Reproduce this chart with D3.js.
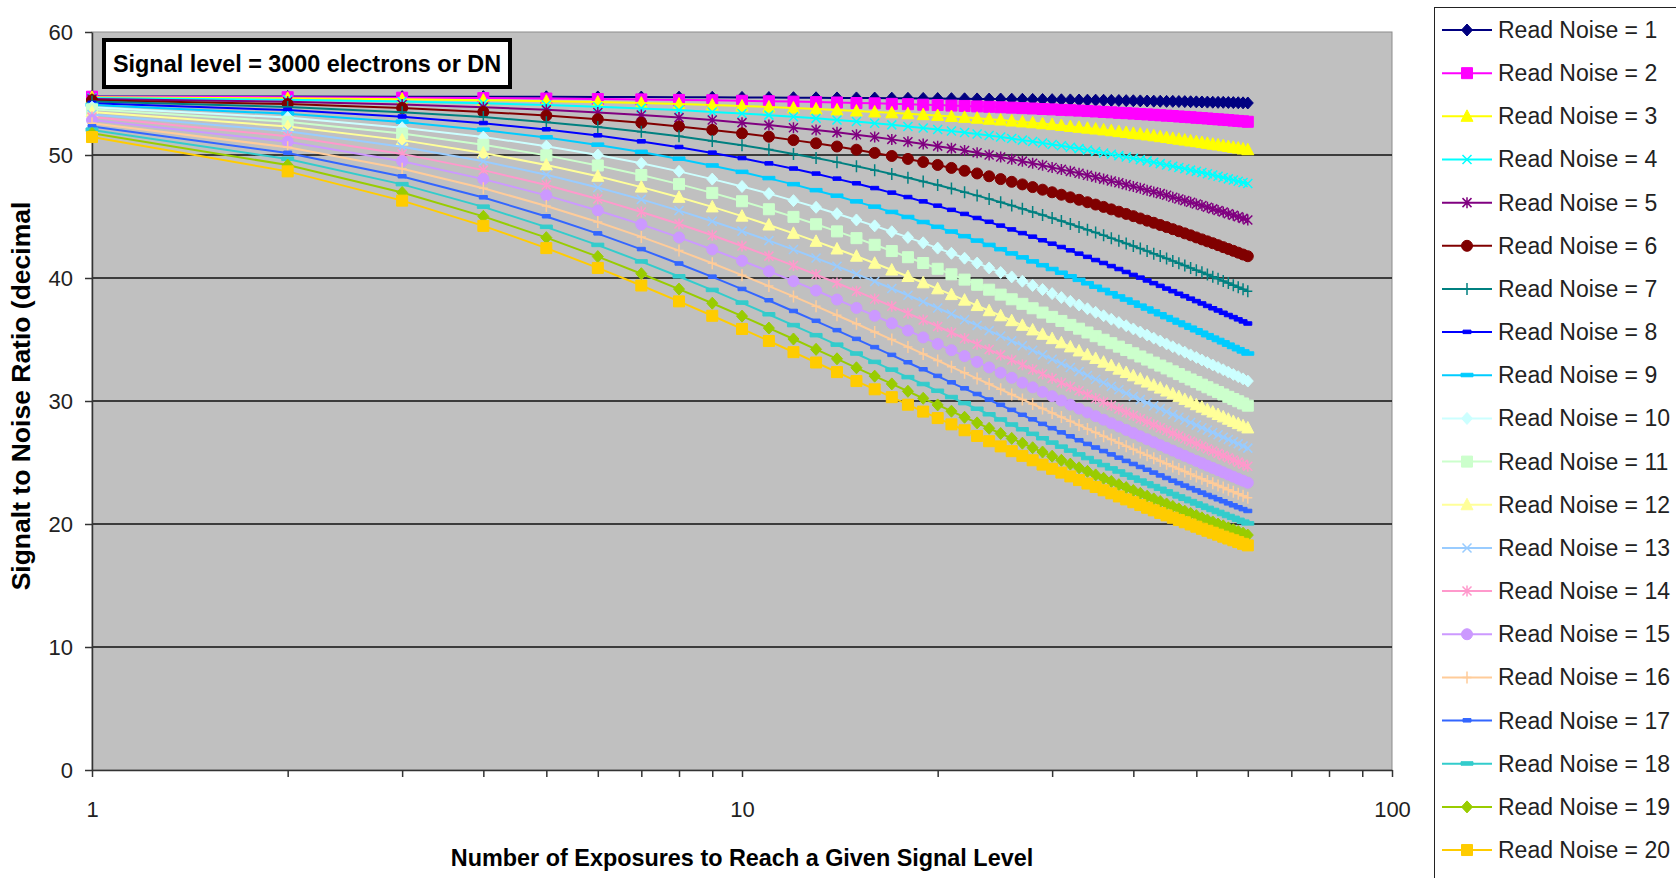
<!DOCTYPE html>
<html>
<head>
<meta charset="utf-8">
<script src="https://d3js.org/d3.v7.min.js"></script>
<style>
  body { margin: 0; background: #fff; }
  text { font-family: "Liberation Sans", Arial, sans-serif; }
</style>
</head>
<body>
<svg width="1676" height="878"></svg>
<script>
// number of exposures (x values)
var exposures = [
  1, 2, 3, 4, 5, 6, 7, 8, 9, 10,
  11, 12, 13, 14, 15, 16, 17, 18, 19, 20,
  21, 22, 23, 24, 25, 26, 27, 28, 29, 30,
  31, 32, 33, 34, 35, 36, 37, 38, 39, 40,
  41, 42, 43, 44, 45, 46, 47, 48, 49, 50,
  51, 52, 53, 54, 55, 56, 57, 58, 59, 60];

var readNoise = [1, 2, 3, 4, 5, 6, 7, 8, 9, 10, 11, 12, 13, 14, 15, 16, 17, 18, 19, 20];

// SNR, one array per read noise level
var snr1 = [54.76,54.75,54.74,54.74,54.73,54.72,54.71,54.70,54.69,54.68,
  54.67,54.66,54.65,54.64,54.64,54.63,54.62,54.61,54.60,54.59,
  54.58,54.57,54.56,54.55,54.55,54.54,54.53,54.52,54.51,54.50,
  54.49,54.48,54.47,54.46,54.46,54.45,54.44,54.43,54.42,54.41,
  54.40,54.39,54.38,54.37,54.36,54.36,54.35,54.34,54.33,54.32,
  54.31,54.30,54.29,54.28,54.28,54.27,54.26,54.25,54.24,54.23];
var snr2 = [54.74,54.70,54.66,54.63,54.59,54.55,54.52,54.48,54.45,54.41,
  54.37,54.34,54.30,54.27,54.23,54.20,54.16,54.13,54.09,54.06,
  54.02,53.99,53.95,53.92,53.88,53.85,53.81,53.78,53.74,53.71,
  53.67,53.64,53.61,53.57,53.54,53.50,53.47,53.43,53.40,53.37,
  53.33,53.30,53.27,53.23,53.20,53.17,53.13,53.10,53.07,53.03,
  53.00,52.97,52.93,52.90,52.87,52.84,52.80,52.77,52.74,52.70];
var snr3 = [54.69,54.61,54.53,54.46,54.38,54.30,54.22,54.14,54.06,53.98,
  53.90,53.82,53.74,53.66,53.58,53.50,53.43,53.35,53.28,53.21,
  53.13,53.06,52.99,52.91,52.84,52.76,52.69,52.62,52.54,52.47,
  52.40,52.32,52.25,52.18,52.11,52.04,51.97,51.90,51.83,51.76,
  51.70,51.63,51.56,51.49,51.42,51.35,51.28,51.21,51.14,51.08,
  51.01,50.95,50.88,50.82,50.75,50.69,50.62,50.56,50.49,50.43];
var snr4 = [54.63,54.49,54.35,54.21,54.07,53.93,53.79,53.65,53.50,53.37,
  53.24,53.11,52.98,52.85,52.72,52.58,52.45,52.32,52.19,52.07,
  51.95,51.83,51.70,51.58,51.46,51.34,51.21,51.09,50.97,50.86,
  50.75,50.63,50.52,50.40,50.29,50.17,50.06,49.95,49.84,49.73,
  49.62,49.52,49.41,49.30,49.19,49.08,48.98,48.88,48.77,48.67,
  48.57,48.47,48.37,48.27,48.17,48.06,47.97,47.87,47.77,47.68];
var snr5 = [54.55,54.33,54.11,53.89,53.67,53.45,53.25,53.04,52.84,52.63,
  52.43,52.22,52.03,51.84,51.65,51.46,51.27,51.08,50.90,50.72,
  50.54,50.36,50.18,50.00,49.83,49.66,49.50,49.33,49.16,48.99,
  48.83,48.67,48.51,48.36,48.20,48.04,47.89,47.74,47.59,47.44,
  47.29,47.14,47.00,46.86,46.72,46.57,46.43,46.29,46.16,46.02,
  45.89,45.75,45.62,45.49,45.36,45.23,45.10,44.98,44.85,44.72];
var snr6 = [54.46,54.14,53.82,53.50,53.21,52.91,52.62,52.32,52.04,51.76,
  51.49,51.21,50.95,50.69,50.43,50.17,49.92,49.68,49.43,49.19,
  48.95,48.72,48.50,48.27,48.04,47.82,47.61,47.39,47.18,46.97,
  46.77,46.56,46.36,46.16,45.97,45.78,45.58,45.39,45.21,45.03,
  44.84,44.66,44.49,44.31,44.14,43.97,43.80,43.63,43.47,43.30,
  43.14,42.98,42.83,42.67,42.51,42.36,42.21,42.06,41.91,41.77];
var snr7 = [54.34,53.91,53.48,53.08,52.67,52.27,51.89,51.52,51.14,50.79,
  50.44,50.09,49.75,49.42,49.09,48.77,48.46,48.15,47.85,47.56,
  47.27,46.98,46.70,46.43,46.16,45.89,45.63,45.37,45.12,44.87,
  44.63,44.39,44.15,43.92,43.69,43.47,43.24,43.03,42.81,42.60,
  42.39,42.19,41.98,41.78,41.59,41.39,41.20,41.01,40.82,40.64,
  40.46,40.28,40.10,39.93,39.75,39.59,39.42,39.25,39.09,38.93];
var snr8 = [54.21,53.65,53.11,52.58,52.07,51.58,51.09,50.63,50.17,49.73,
  49.30,48.88,48.47,48.06,47.68,47.29,46.92,46.56,46.21,45.86,
  45.52,45.19,44.86,44.55,44.24,43.93,43.63,43.34,43.05,42.77,
  42.50,42.23,41.96,41.70,41.44,41.20,40.95,40.71,40.47,40.23,
  40.01,39.78,39.56,39.34,39.12,38.91,38.70,38.50,38.30,38.10,
  37.91,37.71,37.52,37.34,37.15,36.97,36.80,36.62,36.45,36.28];
var snr9 = [54.06,53.35,52.69,52.04,51.42,50.82,50.24,49.68,49.13,48.61,
  48.10,47.61,47.12,46.67,46.21,45.78,45.35,44.94,44.53,44.14,
  43.76,43.38,43.02,42.67,42.32,41.98,41.66,41.33,41.02,40.71,
  40.41,40.12,39.83,39.55,39.27,39.01,38.74,38.48,38.23,37.98,
  37.73,37.50,37.26,37.03,36.80,36.58,36.36,36.15,35.94,35.73,
  35.53,35.33,35.13,34.94,34.75,34.56,34.37,34.19,34.01,33.84];
var snr10 = [53.89,53.04,52.22,51.46,50.72,50.00,49.33,48.67,48.04,47.44,
  46.86,46.29,45.75,45.23,44.72,44.24,43.76,43.30,42.86,42.43,
  42.01,41.61,41.21,40.82,40.45,40.09,39.74,39.39,39.06,38.73,
  38.41,38.10,37.80,37.50,37.21,36.93,36.65,36.38,36.12,35.86,
  35.61,35.36,35.11,34.88,34.64,34.41,34.19,33.97,33.75,33.54,
  33.33,33.13,32.93,32.73,32.54,32.35,32.16,31.98,31.80,31.62];
var snr11 = [53.71,52.70,51.74,50.83,49.97,49.15,48.37,47.63,46.92,46.24,
  45.59,44.97,44.37,43.79,43.24,42.70,42.19,41.69,41.22,40.75,
  40.30,39.87,39.45,39.05,38.65,38.27,37.90,37.54,37.19,36.84,
  36.51,36.19,35.88,35.57,35.27,34.98,34.70,34.42,34.15,33.88,
  33.62,33.37,33.12,32.88,32.65,32.41,32.19,31.97,31.75,31.54,
  31.33,31.12,30.92,30.73,30.53,30.34,30.16,29.98,29.80,29.62];
var snr12 = [53.50,52.32,51.21,50.17,49.19,48.27,47.39,46.56,45.78,45.03,
  44.31,43.63,42.98,42.36,41.77,41.20,40.65,40.12,39.61,39.12,
  38.65,38.20,37.76,37.34,36.93,36.53,36.15,35.78,35.42,35.07,
  34.73,34.40,34.07,33.76,33.46,33.16,32.88,32.59,32.32,32.05,
  31.79,31.54,31.29,31.05,30.81,30.58,30.36,30.13,29.92,29.70,
  29.50,29.29,29.10,28.90,28.71,28.52,28.34,28.16,27.98,27.81];
var snr13 = [53.30,51.93,50.67,49.49,48.39,47.36,46.39,45.48,44.62,43.81,
  43.04,42.31,41.62,40.96,40.32,39.72,39.15,38.60,38.07,37.56,
  37.07,36.60,36.15,35.72,35.29,34.89,34.50,34.12,33.75,33.40,
  33.05,32.72,32.39,32.08,31.77,31.48,31.19,30.91,30.63,30.37,
  30.11,29.86,29.61,29.37,29.13,28.90,28.68,28.46,28.25,28.04,
  27.83,27.63,27.44,27.25,27.06,26.87,26.69,26.52,26.34,26.17];
var snr14 = [53.08,51.52,50.09,48.77,47.56,46.43,45.37,44.39,43.47,42.60,
  41.78,41.01,40.28,39.59,38.93,38.30,37.70,37.13,36.59,36.06,
  35.57,35.08,34.62,34.18,33.75,33.34,32.95,32.56,32.19,31.84,
  31.49,31.16,30.83,30.52,30.21,29.92,29.63,29.35,29.08,28.82,
  28.56,28.31,28.06,27.83,27.60,27.37,27.15,26.93,26.72,26.52,
  26.32,26.12,25.93,25.74,25.56,25.38,25.20,25.03,24.86,24.69];
var snr15 = [52.84,51.08,49.50,48.04,46.72,45.49,44.36,43.30,42.32,41.40,
  40.55,39.74,38.98,38.25,37.57,36.93,36.32,35.73,35.17,34.64,
  34.13,33.65,33.18,32.73,32.30,31.89,31.49,31.11,30.74,30.39,
  30.04,29.70,29.38,29.07,28.77,28.48,28.19,27.92,27.65,27.39,
  27.13,26.89,26.65,26.41,26.19,25.97,25.75,25.54,25.33,25.13,
  24.94,24.74,24.56,24.38,24.20,24.02,23.85,23.68,23.52,23.36];
var snr16 = [52.58,50.63,48.88,47.30,45.86,44.55,43.34,42.23,41.20,40.23,
  39.34,38.50,37.71,36.97,36.28,35.61,34.99,34.40,33.83,33.29,
  32.78,32.29,31.82,31.38,30.95,30.53,30.13,29.75,29.39,29.03,
  28.69,28.36,28.04,27.73,27.43,27.14,26.86,26.59,26.33,26.07,
  25.82,25.58,25.35,25.12,24.90,24.68,24.47,24.27,24.06,23.87,
  23.68,23.49,23.31,23.13,22.96,22.79,22.62,22.46,22.30,22.14];
var snr17 = [52.31,50.16,48.25,46.54,45.00,43.61,42.33,41.16,40.09,39.09,
  38.17,37.30,36.50,35.74,35.03,34.36,33.73,33.13,32.56,32.02,
  31.50,31.01,30.55,30.10,29.67,29.26,28.86,28.49,28.12,27.77,
  27.43,27.11,26.79,26.49,26.20,25.91,25.64,25.37,25.11,24.86,
  24.62,24.39,24.16,23.93,23.72,23.50,23.30,23.10,22.90,22.71,
  22.53,22.34,22.17,21.99,21.83,21.66,21.50,21.34,21.19,21.04];
var snr18 = [52.04,49.68,47.61,45.78,44.14,42.67,41.33,40.12,39.01,37.98,
  37.03,36.15,35.33,34.56,33.84,33.16,32.53,31.92,31.36,30.81,
  30.30,29.81,29.35,28.90,28.48,28.07,27.68,27.31,26.95,26.60,
  26.27,25.95,25.64,25.34,25.05,24.77,24.50,24.25,23.99,23.75,
  23.51,23.28,23.06,22.84,22.63,22.42,22.22,22.03,21.84,21.65,
  21.47,21.29,21.12,20.96,20.79,20.63,20.48,20.32,20.17,20.03];
var snr19 = [51.76,49.18,46.95,45.01,43.28,41.74,40.35,39.10,37.95,36.90,
  35.93,35.04,34.20,33.43,32.70,32.02,31.39,30.79,30.22,29.68,
  29.17,28.68,28.22,27.78,27.36,26.96,26.57,26.20,25.85,25.51,
  25.18,24.87,24.57,24.28,23.99,23.72,23.46,23.20,22.96,22.72,
  22.49,22.26,22.04,21.83,21.63,21.43,21.23,21.04,20.86,20.68,
  20.50,20.33,20.17,20.00,19.85,19.69,19.54,19.39,19.25,19.10];
var snr20 = [51.46,48.67,46.29,44.24,42.43,40.82,39.39,38.10,36.93,35.86,
  34.88,33.97,33.13,32.35,31.62,30.95,30.31,29.70,29.14,28.61,
  28.10,27.62,27.16,26.73,26.31,25.92,25.54,25.18,24.83,24.49,
  24.18,23.87,23.57,23.29,23.01,22.74,22.49,22.24,22.00,21.77,
  21.54,21.32,21.11,20.90,20.70,20.51,20.32,20.14,19.96,19.78,
  19.61,19.45,19.29,19.13,18.97,18.82,18.68,18.53,18.39,18.26];

var snrSeries = [snr1, snr2, snr3, snr4, snr5, snr6, snr7, snr8, snr9, snr10,
                 snr11, snr12, snr13, snr14, snr15, snr16, snr17, snr18, snr19, snr20];

var yTicks = [0, 10, 20, 30, 40, 50, 60];
var xTicks = [1, 2, 3, 4, 5, 6, 7, 8, 9, 10, 20, 30, 40, 50, 60, 70, 80, 90, 100];
var xLabels = [1, 10, 100];

// excel default series colours and marker cycle
var colors = ["#000080", "#FF00FF", "#FFFF00", "#00FFFF", "#800080", "#800000", "#008080",
              "#0000FF", "#00CCFF", "#CCFFFF", "#CCFFCC", "#FFFF99", "#99CCFF", "#FF99CC",
              "#CC99FF", "#FFCC99", "#3366FF", "#33CCCC", "#99CC00", "#FFCC00"];
var markerCycle = ["diamond", "square", "triangle", "x", "star", "circle", "plus", "dash", "longdash"];

var markerPaths = {
  diamond: "M0,-6L5.5,0L0,6L-5.5,0Z",
  square: "M-5.5,-5.5h11v11h-11Z",
  triangle: "M0,-6.5L6,5L-6,5Z",
  x: "M-4.5,-4.5L4.5,4.5M-4.5,4.5L4.5,-4.5",
  star: "M-4.5,-4.5L4.5,4.5M-4.5,4.5L4.5,-4.5M0,-5.5V5.5",
  circle: "M5.5,0A5.5,5.5 0 1,1 -5.5,0A5.5,5.5 0 1,1 5.5,0Z",
  plus: "M-4.5,0H4.5M0,-6V6",
  dash: "M-4,-2h8v3.5h-8Z",
  longdash: "M-6,-2h12v3.5h-12Z"
};
var openMarkers = ["x", "star", "plus"];

var svg = d3.select("svg");
var plotLeft = 92, plotRight = 1392, plotTop = 32, plotBottom = 770;

var x = d3.scaleLog().domain([1, 100]).range([plotLeft, plotRight]);
var y = d3.scaleLinear().domain([0, 60]).range([plotBottom, plotTop]);

// plot area
svg.append("rect")
   .attr("x", plotLeft).attr("y", plotTop)
   .attr("width", plotRight - plotLeft).attr("height", plotBottom - plotTop)
   .attr("fill", "#C0C0C0")
   .attr("stroke", "#8c8c8c").attr("stroke-width", 1);

// gridlines
svg.append("g").selectAll("line")
   .data(yTicks.filter(function(d) { return d > 0 && d < 60; }))
   .enter().append("line")
   .attr("x1", plotLeft).attr("x2", plotRight)
   .attr("y1", function(d) { return y(d); })
   .attr("y2", function(d) { return y(d); })
   .attr("stroke", "#111").attr("stroke-width", 1.5);

// axes
var yAxis = svg.append("g")
   .attr("transform", "translate(" + plotLeft + ",0)")
   .call(d3.axisLeft(y).tickValues(yTicks).tickSize(7).tickPadding(12).tickSizeOuter(0));
var xAxis = svg.append("g")
   .attr("transform", "translate(0," + plotBottom + ")")
   .call(d3.axisBottom(x).tickValues(xTicks).tickSize(7).tickPadding(24).tickSizeOuter(0)
          .tickFormat(function(d) { return xLabels.indexOf(d) >= 0 ? d : ""; }));

[yAxis, xAxis].forEach(function(a) {
  a.select(".domain").attr("stroke", "#333").attr("stroke-width", 1.5);
  a.selectAll(".tick line").attr("stroke", "#333").attr("stroke-width", 1.5);
  a.selectAll(".tick text")
   .attr("fill", "#222")
   .style("font-size", "22px")
   .style("font-family", "'Liberation Sans', Arial, sans-serif");
});

// series
var line = d3.line()
   .x(function(d, i) { return x(exposures[i]); })
   .y(function(d) { return y(d); });

snrSeries.forEach(function(values, s) {
  var g = svg.append("g");
  var mk = markerCycle[s % markerCycle.length];
  var open = openMarkers.indexOf(mk) >= 0;
  g.append("path")
   .attr("d", line(values))
   .attr("fill", "none")
   .attr("stroke", colors[s])
   .attr("stroke-width", 2);
  g.selectAll("path.m")
   .data(values)
   .enter().append("path")
   .attr("class", "m")
   .attr("transform", function(d, i) { return "translate(" + x(exposures[i]) + "," + y(d) + ")"; })
   .attr("d", markerPaths[mk])
   .attr("fill", open ? "none" : colors[s])
   .attr("stroke", colors[s])
   .attr("stroke-width", open ? 1.5 : 1);
});

// title box
svg.append("rect")
   .attr("x", 104).attr("y", 40)
   .attr("width", 406).attr("height", 47)
   .attr("fill", "#fff")
   .attr("stroke", "#000").attr("stroke-width", 4);
svg.append("text")
   .attr("x", 307).attr("y", 72)
   .attr("text-anchor", "middle")
   .style("font-size", "23.4px").style("font-weight", "bold")
   .text("Signal level = 3000 electrons or DN");

// axis titles
svg.append("text")
   .attr("x", 742).attr("y", 866)
   .attr("text-anchor", "middle")
   .style("font-size", "23.4px").style("font-weight", "bold")
   .text("Number of Exposures to Reach a Given Signal Level");
svg.append("text")
   .attr("transform", "translate(30,396) rotate(-90)")
   .attr("text-anchor", "middle")
   .style("font-size", "26.5px").style("font-weight", "bold")
   .text("Signalt to Noise Ratio (decimal");

// legend
var legend = svg.append("g");
legend.append("rect")
   .attr("x", 1434.5).attr("y", 7.5)
   .attr("width", 300).attr("height", 900)
   .attr("fill", "#fff")
   .attr("stroke", "#222").attr("stroke-width", 1);

readNoise.forEach(function(rn, s) {
  var cy = 30 + s * 43.16;
  var mk = markerCycle[s % markerCycle.length];
  var open = openMarkers.indexOf(mk) >= 0;
  legend.append("line")
     .attr("x1", 1442).attr("x2", 1492)
     .attr("y1", cy).attr("y2", cy)
     .attr("stroke", colors[s]).attr("stroke-width", 2);
  legend.append("path")
     .attr("transform", "translate(1467," + cy + ")")
     .attr("d", markerPaths[mk])
     .attr("fill", open ? "none" : colors[s])
     .attr("stroke", colors[s])
     .attr("stroke-width", open ? 1.5 : 1);
  legend.append("text")
     .attr("x", 1498).attr("y", cy + 8)
     .attr("fill", "#222")
     .style("font-size", "23px")
     .text("Read Noise = " + rn);
});
</script>
</body>
</html>
